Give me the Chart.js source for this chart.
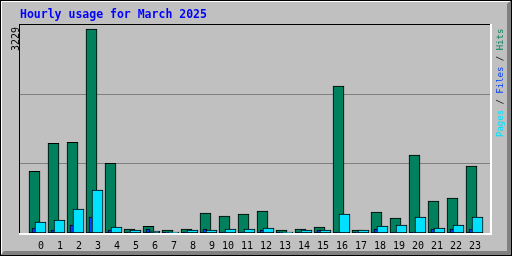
<!DOCTYPE html>
<html>
<head>
<meta charset="utf-8">
<script src="https://cdn.jsdelivr.net/npm/chart.js@4/dist/chart.umd.min.js"></script>
<style>
  html, body { margin: 0; padding: 0; background: #c0c0c0; }
  canvas { display: block; }
</style>
</head>
<body>
<canvas id="hourlyChart" width="512" height="256"></canvas>
<script>
var title = "Hourly usage for March 2025";
var hours = [0, 1, 2, 3, 4, 5, 6, 7, 8, 9, 10, 11, 12, 13, 14, 15, 16, 17, 18, 19, 20, 21, 22, 23];
var hits  = [977, 1420, 1436, 3229, 1103, 63, 106, 47, 63, 317, 269, 301, 348, 47, 63, 95, 2327, 47, 332, 237, 1235, 507, 554, 1061];
var files = [79, 47, 127, 253, 47, 16, 63, 10, 16, 63, 16, 16, 47, 10, 16, 47, 16, 10, 63, 16, 16, 63, 63, 63];
var pages = [174, 206, 380, 681, 95, 47, 32, 16, 47, 47, 63, 63, 79, 16, 47, 47, 301, 47, 111, 127, 253, 79, 127, 253];
var legendParts = [["Pages", "#00e0ff"], [" / ", "#000000"], ["Files", "#0040ff"], [" / ", "#000000"], ["Hits", "#00805c"]];

var maxHits = Math.max.apply(null, hits);
var yMax = 3292;
var slot = 19;            // pixels per hour
var xMin = -24 / slot;
var xMax = xMin + 470 / slot;

function points(values, shift) {
    return values.map(function (v, i) { return { x: hours[i] + shift, y: v }; });
}

var frame = {
    id: 'frame',
    beforeDraw: function (chart) {
        var ctx = chart.ctx;
        ctx.save();
        ctx.fillStyle = '#c0c0c0';
        ctx.fillRect(0, 0, 512, 256);
        // shadow on right and bottom
        ctx.fillStyle = '#808080';
        ctx.beginPath();
        ctx.moveTo(511, 0);
        ctx.lineTo(511, 256);
        ctx.lineTo(0, 256);
        ctx.lineTo(4, 251);
        ctx.lineTo(507, 251);
        ctx.lineTo(507, 4);
        ctx.closePath();
        ctx.fill();
        ctx.fillStyle = '#ffffff';
        ctx.fillRect(1, 1, 509, 1);
        ctx.fillRect(1, 1, 1, 253);
        ctx.strokeStyle = '#000000';
        ctx.lineWidth = 1;
        ctx.strokeRect(0.5, 0.5, 511, 255);

        // title
        ctx.font = 'bold 11.5px "DejaVu Sans Mono"';
        ctx.fillStyle = '#0000ff';
        ctx.textBaseline = 'alphabetic';
        ctx.textAlign = 'left';
        ctx.fillText(title, 20, 18);

        // max value, rotated
        ctx.save();
        ctx.translate(19, 51);
        ctx.rotate(-Math.PI / 2);
        ctx.font = '10px "DejaVu Sans Mono"';
        ctx.fillStyle = '#000000';
        ctx.fillText(String(maxHits), 0, 0);
        ctx.restore();

        // legend, rotated
        ctx.save();
        ctx.translate(503, 137);
        ctx.rotate(-Math.PI / 2);
        ctx.font = '9px "DejaVu Sans Mono"';
        var x = 0;
        legendParts.forEach(function (p) {
            ctx.fillStyle = p[1];
            ctx.fillText(p[0], x, 0);
            x += ctx.measureText(p[0]).width;
        });
        ctx.restore();
        ctx.restore();
    },
    afterDraw: function (chart) {
        var ctx = chart.ctx;
        var a = chart.chartArea;
        ctx.save();
        ctx.fillStyle = '#000000';
        ctx.fillRect(a.left - 1, a.top - 1, a.right - a.left + 1, 1);
        ctx.fillRect(a.left - 1, a.top - 1, 1, a.bottom - a.top + 1);
        ctx.fillStyle = '#ffffff';
        ctx.fillRect(a.left - 1, a.bottom, a.right - a.left + 3, 2);
        ctx.fillRect(a.right, a.top - 1, 2, a.bottom - a.top + 3);
        ctx.restore();
    }
};

new Chart(document.getElementById('hourlyChart'), {
    type: 'bar',
    data: {
        datasets: [{
            label: 'Pages',
            data: points(pages, -3.5 / slot),
            backgroundColor: '#00e0ff',
            barThickness: 11,
            order: 1
        }, {
            label: 'Files',
            data: points(files, -10 / slot),
            backgroundColor: '#0040ff',
            barThickness: 4,
            order: 2
        }, {
            label: 'Hits',
            data: points(hits, -9.5 / slot),
            backgroundColor: '#00805c',
            barThickness: 11,
            order: 3
        }]
    },
    options: {
        responsive: false,
        animation: false,
        layout: { padding: { left: 20, right: 22, top: 25, bottom: 4 } },
        plugins: {
            legend: { display: false },
            tooltip: { enabled: false },
            title: { display: false }
        },
        datasets: {
            bar: {
                grouped: false,
                borderWidth: 1,
                borderColor: '#000000',
                borderSkipped: false
            }
        },
        scales: {
            x: {
                type: 'linear',
                bounds: 'data',
                offset: false,
                min: xMin,
                max: xMax,
                grid: { display: false, drawTicks: false },
                border: { display: false },
                afterBuildTicks: function (scale) {
                    scale.ticks = hours.map(function (h) { return { value: h }; });
                },
                afterFit: function (scale) {
                    scale.height = 19;
                    scale.paddingLeft = 0;
                    scale.paddingRight = 0;
                },
                ticks: {
                    autoSkip: false,
                    maxRotation: 0,
                    align: 'end',
                    padding: 7,
                    color: '#000000',
                    font: { family: 'DejaVu Sans Mono', size: 10 },
                    callback: function (v) { return String(v); }
                }
            },
            y: {
                min: 0,
                max: yMax,
                afterBuildTicks: function (scale) {
                    scale.ticks = [{ value: yMax / 3 }, { value: 2 * yMax / 3 }];
                },
                afterFit: function (scale) {
                    scale.width = 0;
                },
                ticks: { display: false },
                grid: { color: '#808080', drawTicks: false },
                border: { display: false }
            }
        }
    },
    plugins: [frame]
});
</script>
</body>
</html>
